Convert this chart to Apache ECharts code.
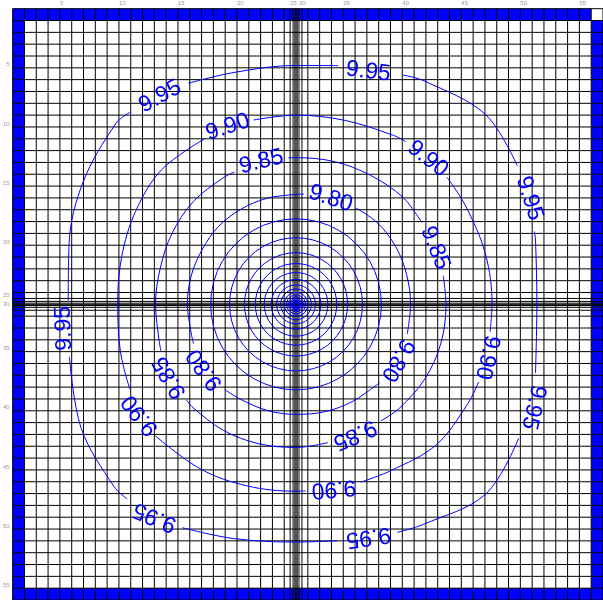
<!DOCTYPE html>
<html>
<head>
<meta charset="utf-8">
<script src="https://cdn.jsdelivr.net/npm/echarts@6/dist/echarts.min.js"></script>
<style>
  html, body { margin: 0; padding: 0; background: #fff; }
  #chart { width: 603px; height: 600px; }
</style>
</head>
<body>
<div id="chart"></div>
<script>
// Model grid: column widths (m), left to right, refined around the well
const delr = [
  10, 10, 10, 10, 10, 10, 10, 10, 10, 10,
  10, 10, 10, 10, 10, 10, 10, 10, 10, 10,
  10, 10, 10,
  5, 2.5, 1.5, 1, 1, 1.5, 2.5, 5,
  10, 10, 10, 10, 10, 10, 10, 10, 10, 10,
  10, 10, 10, 10, 10, 10, 10, 10, 10, 10,
  10, 10, 10, 10, 10
];
// Row heights (m), top to bottom
const delc = [
  10, 10, 10, 10, 10, 10, 10, 10, 10, 10,
  10, 10, 10, 10, 10, 10, 10, 10, 10, 10,
  10, 10, 10, 10,
  5, 2.5, 1.5, 1, 1, 1.5, 2.5, 5,
  10, 10, 10, 10, 10, 10, 10, 10, 10, 10,
  10, 10, 10, 10, 10, 10, 10, 10, 10, 10,
  10, 10, 10, 10
];
// Constant-head boundary: first/last row and column (one corner cell left inactive)
const chdRows = [1, 56];
const chdCols = [1, 56];
const inactiveCells = [[56, 1]];

// Column / row numbers that get a label
const tickIndex = [5, 10, 15, 20, 25, 30, 35, 40, 45, 50, 55];

// Pumping well location (m)
const wellX = 240;
const wellY = 250;

// Labelled head contours, as [angle deg, distance m] from the well; null = gap for a label
const c995 = [[344,211],[360,204],[375,210],[377,211],null,[32,221],[45,227],[60,218],[65,214],null,
  [80,205],[90,202],[105,203],[116,208],null,[131,215],[135,216],[150,208],[165,199],[179,193],null,
  [193,197],[210,210],[225,218],[229,218],null,[243,212],[255,205],[270,201],[280,203],null,
  [294,211],[300,215],[315,227],[329,220]];
const c990 = [[352,166],[360,166],[375,166],[390,166],[400,167],null,[56,166],[60,165],[75,161],[90,160],[103,160],null,
  [119,160],[135,161],[150,157],[165,153],[180,151],[195,154],[207,158],null,
  [223,163],[240,161],[255,159],[270,158],[273,158],null,[290,160],[300,162],[315,168],[330,168],[337,168]];
const c985 = [[33,127],[45,128],[60,126],[75,125],[90,124],[93,124],null,
  [115,123.5],[120,123.5],[135,123],[150,121],[165,119],[180,119],[195,120],[199,121],null,
  [221,123],[225,123.5],[240,123],[255,122],[270,121],[283,120],null,
  [306,122],[315,124],[330,126],[345,127],[360,127],[371,127]];
const c980 = [[86,93.5],[90,93],[105,93],[120,93],[135,93],[150,92],[165,92],[180,92],[195,92],[201,93],null,
  [230,94],[240,93],[255,93],[270,93],[285,94],[300,95],[315,96.5],[317,97],null,
  [345,97.5],[360,97],[375,97],[390,97.5],[405,97.5],[418,96]];

// Unlabelled contours close to the well: level and radius (m)
const innerLevels = [9.75, 9.70, 9.65, 9.60, 9.55, 9.50, 9.45, 9.40, 9.35, 9.30, 9.25, 9.20, 9.15, 9.10, 9.05, 9.00];
const innerRadii  = [72.3, 56.3, 43.7, 34.5, 26.9, 21.0, 16.4, 13.0, 10.1, 8.0, 6.3, 5.0, 3.9, 3.1, 2.4, 1.9];

// Contour labels: [text, angle deg, distance m, text rotation deg]
const contourLabels = [
  ['9.95', 72.7, 206, -7], ['9.95', 123.2, 210, 29], ['9.95', 24.4, 217, -72], ['9.95', 336.6, 219, -103],
  ['9.95', 287.3, 206, 188], ['9.95', 236.4, 216, 157], ['9.95', 185.9, 197.5, 92],
  ['9.90', 111.1, 160.5, 18], ['9.90', 47.8, 166, -38], ['9.90', 344.5, 168, -103],
  ['9.90', 281.6, 159, 185], ['9.90', 215.4, 162, 128],
  ['9.85', 103.7, 124, 14], ['9.85', 22, 127, -68], ['9.85', 210, 123.5, 120], ['9.85', 294.3, 121, 204],
  ['9.80', 71.8, 94, -18], ['9.80', 215.5, 95, 125.5], ['9.80', 331.2, 98, 241]
];

// ---- derived geometry ----
function cumulative(widths) {
  const out = [0];
  widths.forEach(w => out.push(out[out.length - 1] + w));
  return out;
}
const nodeX = cumulative(delr);
const nodeY = cumulative(delc);
const xMax = nodeX[nodeX.length - 1];
const yMax = nodeY[nodeY.length - 1];

function nodeIndex(nodes, v) {
  for (let i = 0; i < nodes.length; i++) if (Math.abs(nodes[i] - v) < 1e-6) return i;
  return -1;
}

function polarToXY(pts) {
  return pts.map(p => {
    if (p === null) return ['-', '-'];
    const a = p[0] * Math.PI / 180;
    return [wellX + p[1] * Math.cos(a), wellY - p[1] * Math.sin(a)];
  });
}
function circleXY(r) {
  const pts = [];
  for (let k = 0; k <= 48; k++) {
    const a = k / 48 * 2 * Math.PI;
    pts.push([wellX + r * Math.cos(a), wellY - r * Math.sin(a)]);
  }
  return pts;
}

// boundary cells
const chdCells = [];
for (let r = 1; r <= delc.length; r++) {
  for (let c = 1; c <= delr.length; c++) {
    const onEdge = chdRows.includes(r) || chdCols.includes(c);
    const inactive = inactiveCells.some(q => q[0] === c && q[1] === r);
    if (onEdge && !inactive) chdCells.push([c, r]);
  }
}

const BLUE = '#0000ff';
const FONT = 'Liberation Sans, Arial, sans-serif';
const series = [];

series.push({
  type: 'custom',
  z: 1,
  silent: true,
  data: chdCells,
  renderItem: function (params, api) {
    const c = api.value(0), r = api.value(1);
    const p0 = api.coord([nodeX[c - 1], nodeY[r - 1]]);
    const p1 = api.coord([nodeX[c], nodeY[r]]);
    return {
      type: 'rect',
      shape: { x: p0[0], y: p0[1], width: p1[0] - p0[0], height: p1[1] - p0[1] },
      style: { fill: BLUE }
    };
  }
});

const gridLines = nodeX.map(v => [0, v]).concat(nodeY.map(v => [1, v]));
series.push({
  type: 'custom',
  z: 2,
  silent: true,
  data: gridLines,
  renderItem: function (params, api) {
    const dir = api.value(0), v = api.value(1);
    const a = dir === 0 ? api.coord([v, 0]) : api.coord([0, v]);
    const b = dir === 0 ? api.coord([v, yMax]) : api.coord([xMax, v]);
    return {
      type: 'line',
      shape: { x1: a[0], y1: a[1], x2: b[0], y2: b[1] },
      style: { stroke: '#000', lineWidth: 1 }
    };
  }
});

[c995, c990, c985, c980].forEach(c => {
  series.push({
    type: 'line', z: 3, silent: true, showSymbol: false, smooth: 0.35, connectNulls: false,
    data: polarToXY(c),
    lineStyle: { color: BLUE, width: 1 }
  });
});
innerRadii.forEach(r => {
  series.push({
    type: 'line', z: 3, silent: true, showSymbol: false, smooth: false,
    data: circleXY(r),
    lineStyle: { color: BLUE, width: 1 }
  });
});

// contour labels drawn along the lines
series.push({
  type: 'custom', z: 5, silent: true,
  data: contourLabels.map(l => {
    const a = l[1] * Math.PI / 180;
    return [wellX + l[2] * Math.cos(a), wellY - l[2] * Math.sin(a), l[3]];
  }),
  renderItem: function (params, api) {
    const p = api.coord([api.value(0), api.value(1)]);
    const lab = contourLabels[params.dataIndex];
    return {
      type: 'text',
      x: p[0], y: p[1],
      rotation: api.value(2) * Math.PI / 180,
      style: {
        text: lab[0], fill: BLUE, font: '23px ' + FONT,
        align: 'center', verticalAlign: 'middle'
      }
    };
  }
});

const chart = echarts.init(document.getElementById('chart'), null, { renderer: 'canvas' });
chart.setOption({
  animation: false,
  backgroundColor: '#fff',
  grid: { left: 12, top: 8.7, width: 594.2, height: 595.5 },
  xAxis: {
    type: 'value', position: 'top', min: 0, max: xMax,
    axisLine: { show: false }, axisTick: { show: false }, splitLine: { show: false },
    axisLabel: {
      // column number at the column's left edge
      customValues: tickIndex.map(i => nodeX[i - 1]),
      formatter: v => String(nodeIndex(nodeX, v) + 1),
      align: 'left',
      fontSize: 6, color: '#999', margin: 2, fontFamily: FONT
    }
  },
  yAxis: {
    type: 'value', inverse: true, min: 0, max: yMax,
    axisLine: { show: false }, axisTick: { show: false }, splitLine: { show: false },
    axisLabel: {
      // row number at the row's lower edge
      customValues: tickIndex.map(i => nodeY[i]),
      formatter: v => String(nodeIndex(nodeY, v)),
      verticalAlign: 'bottom',
      fontSize: 6, color: '#999', margin: 3, fontFamily: FONT
    }
  },
  series: series
});
</script>
</body>
</html>
